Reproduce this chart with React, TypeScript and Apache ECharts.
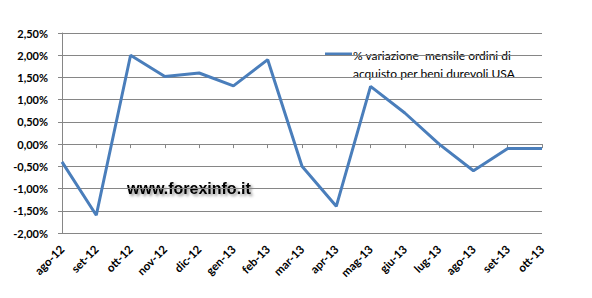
import React, { useEffect, useRef } from "react";
import * as echarts from "echarts";

const categories = [
  "ago-12", "set-12", "ott-12", "nov-12", "dic-12", "gen-13", "feb-13", "mar-13",
  "apr-13", "mag-13", "giu-13", "lug-13", "ago-13", "set-13", "ott-13",
];
const values = [-0.4, -1.6, 2.0, 1.52, 1.6, 1.31, 1.9, -0.5, -1.4, 1.3, 0.7, 0.0, -0.6, -0.1, -0.1];
const seriesName = "% variazione  mensile ordini di acquisto per beni durevoli USA";
const legendLines = ["% variazione  mensile ordini di", "acquisto per beni durevoli USA"];
const watermark = "www.forexinfo.it";

export default function App() {
  const ref = useRef<HTMLDivElement>(null);
  useEffect(() => {
    if (!ref.current) return;
    const chart = echarts.init(ref.current, null, { renderer: "svg" });
    const font = "Lato, 'Open Sans', sans-serif";
    chart.setOption({
      animation: false,
      backgroundColor: "#ffffff",
      grid: { left: 62, right: 50, top: 33, bottom: 65 },
      xAxis: {
        type: "category",
        data: categories,
        boundaryGap: false,
        axisLine: { lineStyle: { color: "#868686", width: 1 } },
        axisTick: { show: true, length: 4, lineStyle: { color: "#868686" } },
        axisLabel: {
          rotate: 45,
          interval: 0,
          margin: 14,
          color: "#000",
          fontFamily: font,
          fontSize: 11.5,
          fontWeight: "bold",
        },
        splitLine: { show: false },
      },
      yAxis: {
        type: "value",
        min: -2,
        max: 2.5,
        interval: 0.5,
        axisLine: { show: true, lineStyle: { color: "#868686", width: 1 } },
        axisTick: { show: true, length: 4, lineStyle: { color: "#868686" } },
        axisLabel: {
          margin: 14,
          color: "#000",
          fontFamily: font,
          fontSize: 11,
          fontWeight: "bold",
          formatter: (v: number) => v.toFixed(2).replace(".", ",") + "%",
        },
        splitLine: { show: true, lineStyle: { color: "#868686", width: 1 } },
      },
      series: [
        {
          name: seriesName,
          type: "line",
          data: values,
          symbol: "none",
          lineStyle: { color: "#4a7ebb", width: 3 },
        },
      ],
      graphic: [
        {
          type: "line",
          shape: { x1: 325, y1: 54, x2: 352, y2: 54 },
          style: { stroke: "#4a7ebb", lineWidth: 3 },
        },
        {
          type: "text",
          left: 353,
          top: 46,
          style: {
            text: legendLines.join("\n"),
            fill: "#000",
            font: `12px ${font}`,
            lineHeight: 18,
          },
        },
        {
          type: "text",
          left: 127,
          top: 180,
          style: {
            text: watermark,
            fill: "#000",
            font: "bold 16px 'Liberation Sans', Arial, sans-serif",
            textShadowColor: "rgba(0,0,0,0.45)",
            textShadowBlur: 3,
            textShadowOffsetX: 2,
            textShadowOffsetY: 2,
          },
        },
      ],
    });
    return () => chart.dispose();
  }, []);
  return (
    <div
      ref={ref}
      style={{ position: "absolute", left: 0, top: 0, width: 592, height: 298 }}
    />
  );
}
